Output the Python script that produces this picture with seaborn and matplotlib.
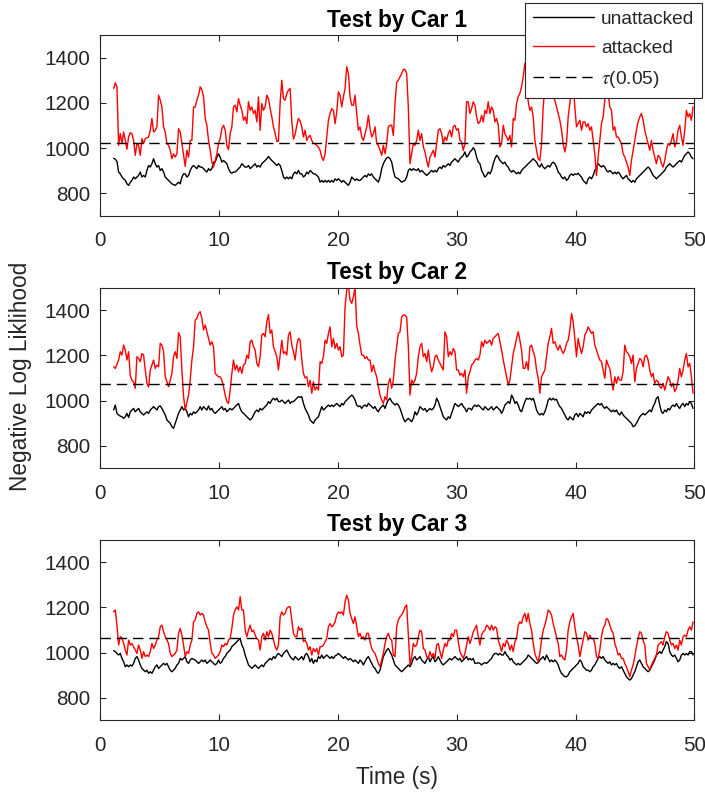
import numpy as np
import matplotlib
matplotlib.use("Agg")
import matplotlib.pyplot as plt
import seaborn as sns

sns.set_style("ticks")
plt.rcParams['font.family'] = ['Liberation Sans', 'DejaVu Sans']
plt.rcParams['mathtext.fontset'] = 'stix'

titles = ['Test by Car 1', 'Test by Car 2', 'Test by Car 3']
tau = [1022, 1071, 1064]          # tau(0.05) threshold per car
t_start, t_end = 1.12, 49.89      # seconds covered by each trace

car1_unattacked = [
    955, 951, 941, 894, 886, 872, 864, 857, 842, 835, 849, 857, 872, 864, 872, 879, 894, 872, 879, 872,
    901, 923, 916, 931, 953, 931, 916, 923, 901, 909, 894, 872, 864, 857, 849, 842, 838, 835, 842, 849,
    842, 872, 886, 886, 872, 879, 901, 916, 923, 916, 909, 923, 916, 916, 909, 901, 894, 909, 901, 909,
    938, 938, 960, 975, 960, 938, 945, 938, 931, 909, 894, 889, 894, 894, 901, 909, 916, 931, 923, 916,
    916, 923, 909, 916, 923, 931, 916, 923, 916, 931, 938, 945, 953, 963, 953, 945, 938, 931, 923, 931,
    923, 901, 872, 864, 872, 864, 872, 864, 886, 894, 886, 901, 886, 886, 872, 879, 894, 886, 901, 894,
    886, 886, 879, 872, 849, 857, 849, 857, 849, 857, 849, 857, 849, 864, 857, 864, 857, 849, 857, 849,
    842, 835, 849, 872, 864, 857, 864, 857, 857, 864, 872, 879, 872, 886, 879, 886, 872, 864, 857, 849,
    872, 909, 931, 945, 957, 960, 953, 938, 901,
    872, 868, 864, 857, 849, 853, 857, 872, 901, 909, 901, 909, 904, 901, 909, 894, 901, 894, 886, 879,
    886, 894, 901, 894, 901, 894, 909, 916, 909, 923, 916, 923, 931, 923, 938, 945, 953, 945, 938, 953,
    960, 968, 983, 960, 968, 983, 990, 1002, 990, 960, 938, 931, 901, 886, 872, 879, 894, 886, 901, 931,
    953, 968, 960, 945, 938, 931, 938, 923, 916, 901, 894, 901, 894, 886, 894, 886, 901, 909, 916, 923,
    931, 938, 945, 953, 945, 938, 923, 916, 931, 916, 909, 916, 923, 916, 931, 938, 931, 916, 894, 886,
    872, 864, 872, 857, 864, 879, 886, 879, 886, 883, 889, 879, 872, 857, 849, 842, 864, 872, 864, 879,
    901, 916, 931, 923, 916, 923, 916, 901, 894, 901, 894, 886, 894, 886, 894, 886, 872, 864, 872, 879,
    864, 857, 849, 857, 849, 864, 872, 879, 886, 894, 901, 909, 916, 909, 894, 879, 872, 864, 872, 879,
    886, 894, 901, 916, 923, 931, 923, 916, 923, 931, 938, 945, 938, 953, 968, 975, 983, 975, 960, 953,
]
car1_attacked = [
    1264, 1289, 1271, 1012, 1064, 1020, 1071, 1034, 995, 1050, 1068, 1064, 1034, 968, 1020, 1012, 968, 1042, 1020, 1042,
    1045, 1049, 1079, 1131, 1071, 1079, 1094, 1234, 1212, 1182, 1094, 1071, 1020, 1012, 990, 953, 975, 960, 975, 1086,
    1071, 1020, 968, 919, 990, 960, 1034, 1034, 1182, 1182, 1212, 1234, 1271, 1259, 1227, 1131, 1101, 1034, 990, 938,
    916, 945, 975, 1020, 1042, 1086, 1101, 1079, 1012, 993, 1064, 1094, 1182, 1190, 1160, 1219, 1190, 1167, 1123, 1138,
    1108, 1205, 1167, 1182, 1153, 1167, 1116, 1227, 1079, 1197, 1167, 1182, 1234, 1219, 1175, 1138, 1094, 1064, 1030, 1030,
    1200, 1300, 1219, 1212, 1242, 1256, 1264, 1120, 1040, 1060, 1100, 1131, 1120, 1094, 1049, 1079, 1034, 1049, 1056, 1034,
    1020, 1020, 1012, 1005, 990, 960, 945, 975, 1049, 1123, 1153, 1175, 1167, 1108, 1160, 1249, 1234, 1182, 1227, 1264,
    1360, 1330, 1227, 1190, 1190, 1234, 1153, 1079, 1094, 1049, 1034, 1064, 1094, 1145, 1086, 1049, 1064, 1094, 1020, 1012,
    990, 968, 1012, 975, 1020, 1094, 1101, 1101, 1056,
    1200, 1290, 1301, 1315, 1330, 1348, 1348, 1330, 1180, 931, 975, 1020, 1012, 1034, 1079, 1034, 1064, 1005, 983, 945,
    916, 960, 975, 990, 960, 1020, 1079, 1086, 1064, 1020, 1049, 1034, 1064, 1079, 1049, 1094, 1101, 1079, 1086, 1034,
    1027, 990, 1020, 1205, 1205, 1153, 1175, 1205, 1190, 1138, 1108, 1116, 1145, 1116, 1167, 1153, 1205, 1153, 1182, 1167,
    1116, 1131, 1101, 1005, 1020, 1101, 1064, 1049, 1034, 1056, 1005, 1131, 1123, 1197, 1227, 1242, 1271, 1316, 1375, 1330,
    1205, 1167, 1182, 1138, 1034, 990, 953, 945, 1020, 1182, 1271, 1330, 1260, 1300, 1240, 1230, 1212, 1182, 1153, 1123,
    1079, 1020, 983, 1020, 1138, 1197, 1260, 1290, 1182, 1094, 1108, 1123, 1079, 1116, 1116, 1094, 1108, 1079, 1094, 1034,
    975, 879, 960, 1034, 1108, 1138, 1212, 1249, 1242, 1182, 1167, 1079, 1094, 1049, 1049, 1034, 1020, 975, 960, 938,
    916, 879, 945, 990, 1034, 1079, 1116, 1138, 1153, 1123, 1079, 1049, 1020, 990, 1034, 990, 960, 931, 968, 960,
    931, 916, 945, 990, 1020, 1012, 1034, 1064, 1005, 1027, 1079, 1101, 1049, 1012, 1079, 1167, 1138, 1153, 1123, 1182,
]
car2_unattacked = [
    958, 980, 943, 936, 931, 928, 921, 928, 943, 925, 950, 958, 965, 950, 958, 965, 950, 943, 936, 943,
    950, 943, 958, 965, 973, 965, 958, 973, 976, 965, 950, 936, 914, 906, 899, 884, 877, 899, 921, 943,
    958, 973, 958, 965, 950, 928, 943, 936, 950, 943, 950, 958, 973, 958, 973, 965, 958, 976, 958, 965,
    950, 943, 950, 958, 965, 973, 958, 965, 950, 958, 965, 958, 965, 973, 980, 987, 965, 950, 943, 936,
    928, 921, 914, 921, 936, 950, 958, 950, 965, 958, 965, 973, 980, 995, 987, 1002, 1010, 1002, 1010, 995,
    995, 1002, 995, 987, 995, 1002, 987, 995, 995, 1002, 1010, 1017, 1014, 1017, 987, 965, 950, 936, 914, 906,
    899, 914, 921, 928, 950, 973, 958, 965, 973, 980, 973, 980, 973, 980, 987, 980, 973, 987, 980, 995,
    1002, 1010, 1017, 1024, 1017, 1002, 980, 973, 976, 965, 976, 980, 973, 987, 980, 973, 965, 973, 958, 950,
    965, 973, 980, 965, 987, 1002, 1010, 995, 987,
    980, 987, 980, 965, 943, 921, 906, 914, 921, 914, 906, 921, 950, 936, 950, 973, 965, 958, 965, 950,
    958, 965, 958, 965, 980, 1010, 995, 973, 950, 928, 921, 914, 928, 921, 943, 965, 987, 980, 973, 980,
    987, 973, 965, 950, 965, 965, 958, 973, 980, 973, 980, 973, 965, 958, 973, 965, 958, 965, 973, 958,
    965, 973, 965, 958, 943, 958, 980, 987, 995, 987, 1024, 1010, 987, 995, 980, 958, 950, 973, 995, 1010,
    1006, 1010, 1002, 1010, 987, 958, 943, 936, 943, 936, 950, 973, 1002, 1010, 1002, 1010, 1002, 1006, 987, 973,
    965, 950, 936, 921, 914, 928, 921, 914, 936, 943, 928, 943, 936, 928, 950, 943, 950, 943, 958, 965,
    973, 980, 987, 980, 987, 973, 965, 973, 965, 958, 950, 958, 950, 958, 943, 936, 950, 936, 928, 921,
    914, 906, 899, 884, 888, 899, 914, 928, 936, 943, 936, 943, 950, 958, 950, 973, 987, 1010, 1017, 980,
    950, 943, 958, 950, 965, 958, 973, 980, 973, 987, 973, 965, 980, 987, 973, 987, 980, 995, 987, 965,
]
car2_attacked = [
    1149, 1142, 1160, 1179, 1216, 1201, 1245, 1223, 1179, 1216, 1110, 1090, 1083, 1054, 1194, 1186, 1172, 1208, 1201, 1135,
    1076, 1060, 1135, 1157, 1179, 1142, 1157, 1149, 1253, 1245, 1216, 1105, 1083, 1061, 1090, 1120, 1194, 1216, 1186, 1300,
    1282, 1135, 1017, 958, 990, 1024, 1090, 1179, 1238, 1356, 1363, 1385, 1393, 1363, 1312, 1334, 1304, 1275, 1245, 1260,
    1238, 1120, 1112, 1105, 1105, 1090, 1061, 1024, 995, 987, 1046, 1120, 1179, 1135, 1157, 1127, 1149, 1120, 1157, 1164,
    1201, 1186, 1260, 1267, 1238, 1223, 1164, 1149, 1194, 1290, 1297, 1282, 1348, 1380, 1297, 1312, 1238, 1216, 1194, 1135,
    1200, 1267, 1208, 1216, 1201, 1290, 1304, 1245, 1216, 1179, 1245, 1275, 1267, 1179, 1120, 1100, 1105, 1061, 1090, 1032,
    1083, 1046, 1061, 1046, 1172, 1164, 1194, 1267, 1253, 1297, 1326, 1238, 1275, 1230, 1253, 1223, 1238, 1194, 1201, 1415,
    1488, 1510, 1444, 1430, 1459, 1500, 1330, 1297, 1245, 1201, 1201, 1186, 1194, 1179, 1179, 1127, 1157, 1127, 1105, 1061,
    1024, 1002, 987, 1017, 1002, 1076, 1098, 1054, 1090,
    1179, 1238, 1297, 1304, 1370, 1378, 1378, 1370, 1238, 1024, 1090, 1076, 1090, 1120, 1194, 1238, 1253, 1194, 1208, 1172,
    1223, 1164, 1127, 1149, 1194, 1201, 1179, 1164, 1149, 1135, 1304, 1282, 1194, 1216, 1201, 1230, 1216, 1135, 1135, 1112,
    1120, 1105, 1135, 1032, 1105, 1127, 1157, 1164, 1179, 1186, 1179, 1201, 1260, 1238, 1267, 1253, 1260, 1267, 1245, 1275,
    1282, 1290, 1297, 1260, 1223, 1179, 1142, 1105, 1068, 1090, 1149, 1208, 1238, 1275, 1304, 1267, 1223, 1142, 1142, 1172,
    1135, 1238, 1245, 1216, 1194, 1135, 1098, 1032, 1105, 1120, 1135, 1194, 1253, 1282, 1319, 1253, 1260, 1238, 1223, 1245,
    1223, 1208, 1223, 1253, 1267, 1312, 1385, 1348, 1275, 1194, 1275, 1238, 1208, 1238, 1290, 1304, 1326, 1312, 1297, 1304,
    1245, 1223, 1201, 1179, 1172, 1135, 1098, 1179, 1157, 1142, 1090, 1046, 1105, 1076, 1105, 1090, 1090, 1127, 1245, 1216,
    1208, 1194, 1164, 1201, 1083, 1142, 1164, 1186, 1179, 1149, 1194, 1201, 1179, 1135, 1105, 1120, 1076, 1090, 1083, 1061,
    1054, 1076, 1046, 1076, 1105, 1090, 1061, 1076, 1039, 1054, 1090, 1142, 1105, 1135, 1179, 1208, 1149, 1164, 1105, 1032,
]
car3_unattacked = [
    1008, 1004, 996, 989, 996, 974, 959, 937, 945, 937, 945, 940, 952, 974, 982, 967, 945, 930, 922, 915,
    922, 908, 915, 908, 922, 937, 945, 930, 937, 945, 952, 945, 952, 937, 922, 915, 922, 930, 945, 952,
    974, 967, 974, 982, 959, 952, 967, 974, 970, 967, 959, 952, 959, 967, 959, 967, 952, 959, 967, 959,
    952, 945, 952, 967, 952, 959, 974, 982, 996, 1004, 1011, 1026, 1033, 1040, 1048, 1055, 1062, 1033, 1018, 989,
    967, 945, 937, 930, 937, 945, 937, 930, 937, 945, 937, 952, 959, 967, 974, 967, 982, 974, 989, 996,
    989, 982, 996, 1004, 1011, 996, 982, 974, 967, 982, 974, 967, 974, 982, 967, 989, 996, 982, 959, 974,
    952, 967, 959, 982, 974, 989, 974, 982, 989, 982, 974, 982, 974, 985, 989, 996, 989, 982, 974, 982,
    974, 967, 974, 967, 959, 967, 959, 952, 967, 959, 945, 959, 974, 982, 967, 952, 937, 930, 915, 908,
    922, 952, 982, 996, 1011, 1018, 1004, 989, 967,
    945, 937, 930, 922, 915, 922, 930, 937, 945, 937, 952, 974, 982, 967, 974, 982, 967, 959, 952, 967,
    982, 959, 974, 982, 959, 967, 982, 967, 952, 945, 952, 959, 967, 974, 967, 974, 982, 974, 967, 974,
    959, 967, 974, 982, 967, 974, 967, 974, 952, 952, 955, 952, 945, 952, 955, 952, 959, 967, 974, 989,
    996, 996, 989, 996, 989, 989, 1004, 989, 982, 967, 974, 959, 952, 945, 952, 945, 952, 959, 967, 974,
    989, 982, 974, 967, 959, 952, 955, 967, 974, 982, 967, 989, 974, 959, 967, 959, 967, 959, 945, 922,
    908, 900, 893, 893, 900, 915, 922, 930, 937, 945, 952, 967, 959, 937, 930, 922, 922, 915, 922, 937,
    945, 959, 974, 982, 974, 982, 967, 959, 952, 959, 945, 952, 945, 952, 937, 930, 937, 922, 908, 893,
    885, 878, 885, 900, 915, 937, 959, 967, 952, 937, 930, 922, 915, 922, 937, 952, 967, 989, 996, 1004,
    996, 1011, 1026, 1048, 1040, 1004, 989, 982, 989, 974, 959, 967, 989, 996, 989, 996, 989, 1004, 1004, 989,
]
car3_attacked = [
    1180, 1188, 1120, 1033, 1070, 1065, 1040, 1011, 989, 1055, 1033, 1040, 1026, 1011, 996, 1033, 1011, 974, 1004, 982,
    989, 982, 1004, 1040, 1018, 1033, 1055, 1070, 1114, 1121, 1092, 1070, 1055, 1040, 996, 982, 989, 996, 1011, 1085,
    1107, 1077, 1033, 982, 1004, 996, 1033, 1055, 1136, 1144, 1173, 1180, 1166, 1173, 1166, 1136, 1114, 1099, 1040, 996,
    989, 974, 982, 989, 1004, 1033, 1026, 1040, 1033, 1055, 1062, 1107, 1166, 1188, 1202, 1188, 1247, 1188, 1188, 1099,
    1070, 1099, 1121, 1092, 1099, 1077, 1062, 1055, 1011, 1070, 1085, 1055, 1092, 1070, 1099, 1085, 1055, 1026, 1011, 1033,
    1158, 1180, 1166, 1173, 1195, 1202, 1202, 1144, 1085, 1070, 1070, 1114, 1099, 1107, 1048, 1055, 1040, 1011, 1026, 989,
    1018, 1004, 1018, 989, 1026, 1026, 1033, 1048, 1062, 1114, 1128, 1114, 1121, 1136, 1166, 1180, 1173, 1180, 1166, 1224,
    1254, 1232, 1173, 1151, 1128, 1158, 1114, 1070, 1085, 1062, 1070, 1055, 1085, 1085, 1048, 1018, 1004, 996, 974, 952,
    937, 967, 996, 1040, 1070, 1085, 1062, 1055, 989,
    982, 1114, 1144, 1158, 1166, 1180, 1202, 1210, 1080, 945, 982, 1040, 1026, 1033, 1070, 1099, 1092, 1018, 1011, 982,
    974, 1004, 982, 996, 974, 1033, 1040, 1004, 974, 1011, 1040, 1026, 1055, 1055, 1085, 1070, 1099, 1099, 1048, 1004,
    989, 974, 996, 1033, 1070, 1040, 1062, 1092, 1107, 1121, 1070, 1033, 1077, 1092, 1099, 1121, 1114, 1099, 1121, 1099,
    1114, 1107, 1055, 1033, 1004, 1040, 1026, 1055, 1040, 1011, 1033, 1004, 1048, 1062, 1121, 1136, 1128, 1158, 1173, 1136,
    1173, 1128, 1099, 1040, 996, 974, 960, 996, 1055, 1099, 1121, 1151, 1188, 1180, 1166, 1128, 1099, 1070, 1040, 982,
    989, 974, 967, 1011, 1099, 1136, 1158, 1173, 1114, 1070, 1033, 982, 1018, 1055, 1092, 1085, 1055, 1077, 1062, 1062,
    1040, 982, 974, 1011, 1070, 1107, 1121, 1151, 1144, 1121, 1099, 1085, 1040, 1018, 989, 996, 974, 974, 952, 937,
    915, 893, 923, 945, 982, 1026, 1062, 1092, 1085, 1055, 1033, 952, 937, 923, 945, 960, 974, 989, 1033, 1040,
    1048, 1033, 1070, 1092, 1085, 1055, 1033, 1040, 1018, 1033, 1011, 1055, 1033, 1070, 1077, 1070, 1099, 1114, 1099, 1136,
]

unattacked = [car1_unattacked, car2_unattacked, car3_unattacked]
attacked = [car1_attacked, car2_attacked, car3_attacked]

axis_grey = '#262626'
fig = plt.figure(figsize=(7.05, 7.94), dpi=100)
bottoms = [0.7281, 0.4102, 0.0928]
axes = [fig.add_axes([0.1423, b, 0.8426, 0.2277]) for b in bottoms]

for ax, title, un, att, thr in zip(axes, titles, unattacked, attacked, tau):
    t_un = np.linspace(t_start, t_end, len(un))
    t_att = np.linspace(t_start, t_end, len(att))
    sns.lineplot(x=t_un, y=un, ax=ax, color='black', linewidth=1.0,
                 estimator=None, label='unattacked')
    sns.lineplot(x=t_att, y=att, ax=ax, color='#ff0000', linewidth=1.0,
                 estimator=None, label='attacked')
    ax.axhline(thr, color='black', linewidth=1.0, dashes=(7.5, 4.2),
               label=r'$\tau$(0.05)')

    ax.set_xlim(0, 50)
    ax.set_ylim(700, 1500)
    ax.set_xticks(range(0, 51, 10))
    ax.set_yticks(range(800, 1401, 200))
    ax.set_xlabel('')
    ax.set_ylabel('')
    ax.set_title(title, fontsize=16.3, fontweight='bold', pad=6, color='black')
    ax.tick_params(direction='in', top=True, right=True, length=4, width=0.8,
                   colors=axis_grey, labelsize=14.9)
    ax.tick_params(axis='x', pad=11)
    ax.tick_params(axis='y', pad=7.5)
    for s in ax.spines.values():
        s.set_visible(True)
        s.set_color(axis_grey)
        s.set_linewidth(0.8)
    ax.get_legend().remove()

handles, labels = axes[0].get_legend_handles_labels()
leg = axes[0].legend(handles, labels, loc='upper left', bbox_to_anchor=(0.745, 0.9965),
                     bbox_transform=fig.transFigure, fontsize=13.8, frameon=True,
                     fancybox=False, framealpha=1, edgecolor=axis_grey, borderaxespad=0,
                     handlelength=3.2, handletextpad=0.35, labelspacing=0.62, borderpad=0.4)
leg.get_frame().set_linewidth(0.8)

axes[2].set_xlabel('Time (s)', fontsize=16.3, labelpad=8, color=axis_grey)
fig.text(0.0292, 0.5258, 'Negative Log Liklihood', rotation=90, ha='center', va='center',
         fontsize=16.3, color=axis_grey)

fig.savefig('out.png', dpi=100)
